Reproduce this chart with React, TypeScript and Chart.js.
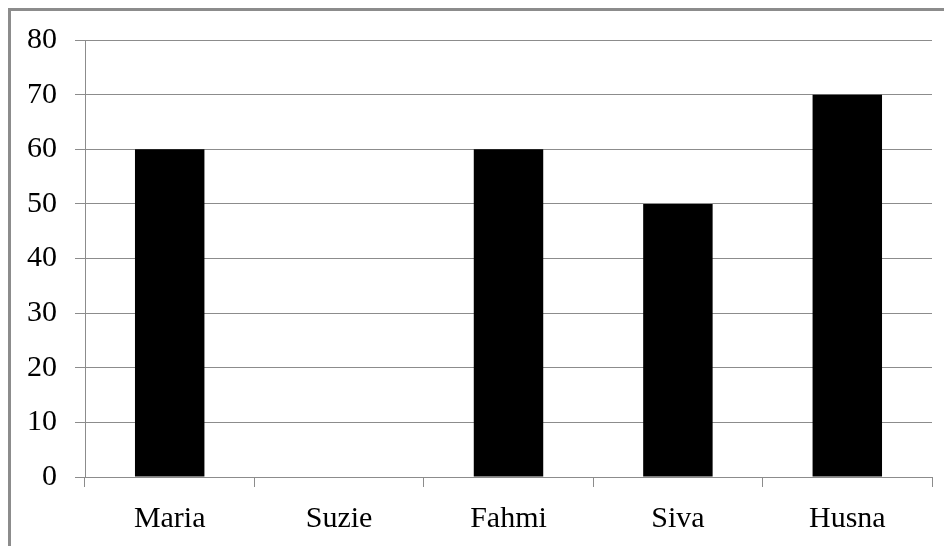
import React, { useEffect, useRef } from "react";
import { Chart, registerables } from "chart.js";

Chart.register(...registerables);

const categories = ["Maria", "Suzie", "Fahmi", "Siva", "Husna"];
const values = [60, 0, 60, 50, 70];
const yMin = 0;
const yMax = 80;
const yStep = 10;

const FONT = "'Liberation Serif', 'Times New Roman', serif";
const GRID = "#8c8c8c";

export default function App() {
  const ref = useRef<HTMLCanvasElement>(null);
  useEffect(() => {
    if (!ref.current) return;
    const chart = new Chart(ref.current, {
      type: "bar",
      data: {
        labels: categories,
        datasets: [
          {
            data: values,
            backgroundColor: "#000000",
            borderWidth: 0,
            barPercentage: 0.41,
            categoryPercentage: 1,
          },
        ],
      },
      options: {
        responsive: false,
        animation: false,
        maintainAspectRatio: false,
        layout: { padding: { left: 16, right: 20, top: 29, bottom: 0 } },
        plugins: { legend: { display: false }, tooltip: { enabled: false } },
        scales: {
          x: {
            offset: true,
            afterFit: (axis: any) => {
              axis.height = 69;
              axis.paddingLeft = 0;
              axis.paddingRight = 0;
            },
            grid: {
              offset: true,
              drawOnChartArea: false,
              drawTicks: true,
              tickLength: 10,
              color: GRID,
            },
            border: { display: true, color: GRID, width: 1 },
            ticks: {
              color: "#000",
              font: { family: FONT, size: 30 },
              padding: 14,
            },
          },
          y: {
            min: yMin,
            max: yMax,
            afterFit: (axis: any) => {
              axis.width = 58;
              axis.paddingTop = 0;
              axis.paddingBottom = 0;
            },
            grid: { color: GRID, tickLength: 10, drawTicks: true },
            border: { display: true, color: GRID, width: 1 },
            ticks: {
              stepSize: yStep,
              color: "#000",
              font: { family: FONT, size: 30 },
              padding: 18,
            },
          },
        },
      },
    });
    return () => chart.destroy();
  }, []);
  return (
    <div
      style={{
        borderLeft: `3px solid ${GRID}`,
        borderTop: `3px solid ${GRID}`,
        width: 941,
        height: 535,
        overflow: "hidden",
        background: "#fff",
      }}
    >
      <canvas ref={ref} width={941} height={535} style={{ display: "block" }} />
    </div>
  );
}
